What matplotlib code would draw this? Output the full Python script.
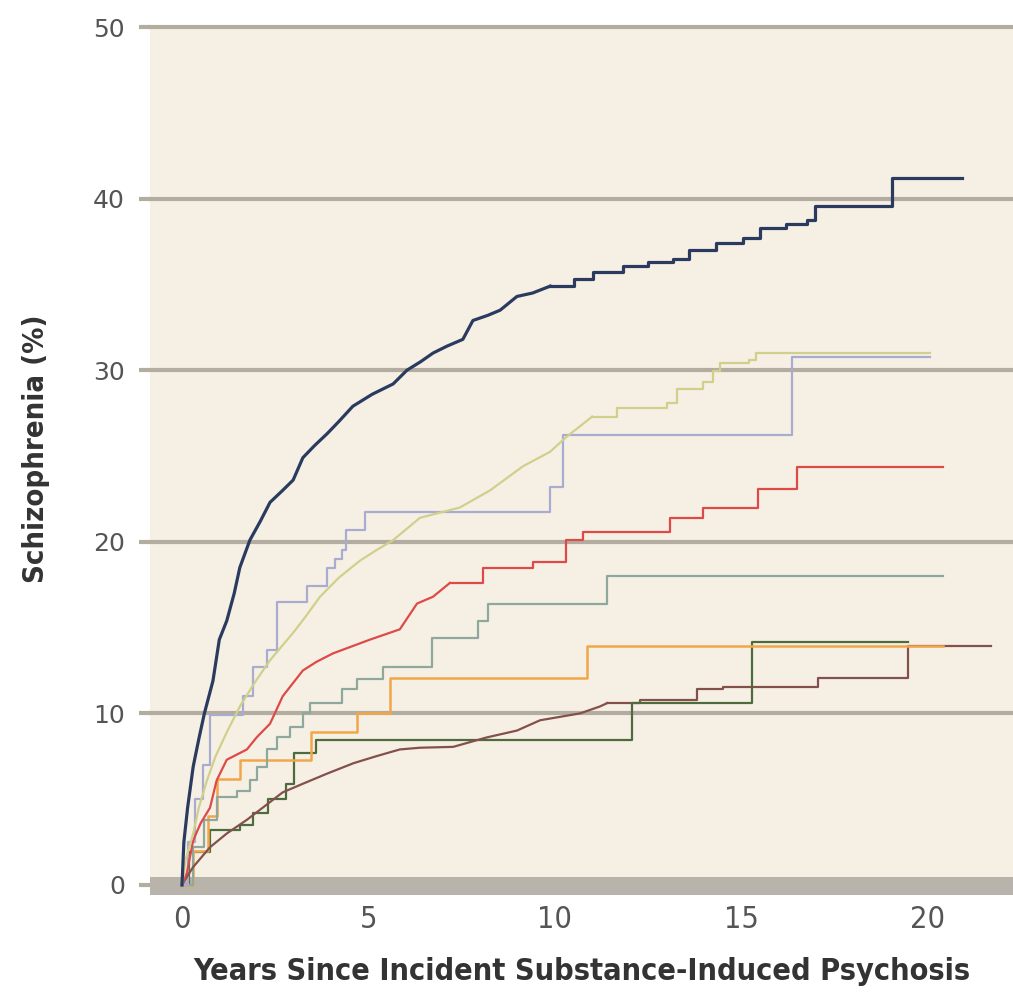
import matplotlib
matplotlib.use('Agg')
import matplotlib.pyplot as plt

# cumulative incidence curves, years vs percent
# early parts look smooth (many events), later parts are clear steps
navy_early_x = [0, 0.05, 0.15, 0.3, 0.45, 0.6, 0.83, 1.0, 1.2, 1.4, 1.55, 1.82, 2.1, 2.36, 2.7, 2.98, 3.24, 3.55,
                3.89, 4.2, 4.58, 5.1, 5.66, 6.03, 6.4, 6.73, 7.1, 7.53, 7.8, 8.2, 8.53, 8.98, 9.4, 9.87]
navy_early_y = [0, 2.5, 4.5, 6.9, 8.5, 10.0, 11.9, 14.3, 15.4, 17.0, 18.5, 20.1, 21.2, 22.3, 23.0, 23.6, 24.9, 25.6,
                26.3, 27.0, 27.9, 28.6, 29.2, 30.0, 30.5, 31.0, 31.4, 31.8, 32.9, 33.2, 33.5, 34.3, 34.5, 34.9]
navy_late_x = [9.87, 10.5, 11.03, 11.83, 12.5, 13.17, 13.6, 14.33, 15.05, 15.5, 16.2, 16.75, 16.97, 19.03, 20.9]
navy_late_y = [34.9, 35.3, 35.7, 36.1, 36.3, 36.5, 37.0, 37.4, 37.7, 38.3, 38.5, 38.75, 39.6, 41.2, 41.2]

khaki_early_x = [0, 0.1, 0.3, 0.45, 0.67, 0.9, 1.2, 1.55, 1.95, 2.36, 2.98, 3.3, 3.7, 4.2, 4.77, 5.2, 5.66, 6.38,
                 7.45, 8.26, 9.14, 9.87, 10.3, 11.0]
khaki_early_y = [0, 1.5, 3.0, 4.5, 6.1, 7.5, 8.9, 10.4, 11.8, 13.1, 14.7, 15.6, 16.8, 17.9, 18.9, 19.5, 20.1, 21.4,
                 22.0, 23.0, 24.4, 25.25, 26.1, 27.3]
khaki_late_x = [11.0, 11.66, 13.0, 13.27, 13.97, 14.24, 14.42, 15.2, 15.4, 20.05]
khaki_late_y = [27.3, 27.8, 28.1, 28.9, 29.3, 29.95, 30.4, 30.6, 31.0, 31.0]

lav_x = [0, 0.15, 0.35, 0.55, 0.75, 1.63, 1.9, 2.27, 2.54, 3.35, 3.88, 4.1, 4.28, 4.41, 4.9, 9.87, 10.22, 16.35, 20.05]
lav_y = [0, 2.5, 5.0, 7.0, 9.9, 11.0, 12.7, 13.7, 16.5, 17.4, 18.5, 19.0, 19.5, 20.7, 21.75, 23.2, 26.25, 30.8, 30.8]

red_early_x = [0, 0.13, 0.3, 0.5, 0.75, 0.93, 1.2, 1.74, 2.0, 2.36, 2.7, 3.24, 3.6, 4.05, 5.04, 5.84, 6.3, 6.73, 7.18]
red_early_y = [0, 0.7, 2.6, 3.6, 4.5, 6.1, 7.3, 7.9, 8.6, 9.4, 11.0, 12.5, 13.0, 13.5, 14.3, 14.9, 16.4, 16.8, 17.6]
red_late_x = [7.18, 8.07, 9.4, 10.3, 10.75, 13.08, 13.97, 15.45, 16.5, 20.4]
red_late_y = [17.6, 18.5, 18.8, 20.1, 20.6, 21.4, 22.0, 23.1, 24.35, 24.35]

teal_x = [0, 0.3, 0.6, 0.93, 1.47, 1.82, 2.0, 2.28, 2.54, 2.9, 3.24, 3.43, 4.3, 4.7, 5.4, 6.7, 7.93, 8.2, 11.4, 20.4]
teal_y = [0, 2.2, 3.8, 5.1, 5.5, 6.1, 6.9, 7.9, 8.6, 9.2, 10.0, 10.6, 11.4, 12.0, 12.7, 14.4, 15.4, 16.4, 18.0, 18.0]

orange_x = [0, 0.3, 0.7, 0.95, 1.55, 3.45, 4.7, 5.57, 10.85, 20.4]
orange_y = [0, 2.0, 4.0, 6.2, 7.3, 8.9, 10.0, 12.07, 13.9, 13.9]

green_x = [0, 0.2, 0.75, 1.55, 1.9, 2.3, 2.8, 3.0, 3.6, 12.06, 15.27, 19.46]
green_y = [0, 1.9, 3.2, 3.5, 4.2, 5.0, 5.9, 7.7, 8.45, 10.6, 14.18, 14.18]

brown_early_x = [0, 0.08, 0.3, 0.75, 1.2, 1.74, 2.1, 2.7, 3.24, 3.9, 4.6, 5.2, 5.84, 6.38, 7.27, 8.17, 8.98, 9.6,
                 10.67, 11.2, 11.4]
brown_early_y = [0, 0.3, 1.05, 2.2, 3.0, 3.8, 4.4, 5.4, 5.9, 6.5, 7.1, 7.5, 7.9, 8.0, 8.05, 8.6, 9.0, 9.6,
                 10.0, 10.4, 10.6]
brown_late_x = [11.4, 12.28, 13.8, 14.5, 17.05, 19.46, 21.7]
brown_late_y = [10.6, 10.8, 11.4, 11.55, 12.07, 13.95, 13.95]

y_ticks = [0, 10, 20, 30, 40, 50]
x_ticks = [0, 5, 10, 15, 20]

fig = plt.figure(figsize=(10.13, 9.94), dpi=100)
ax = fig.add_axes([150 / 1013, 99 / 994, 863 / 1013, 870 / 994])
ax.set_facecolor('#f6f0e4')
ax.set_xlim(-0.858, 22.28)
ax.set_ylim(-0.583, 50.12)

# gridlines and the thick baseline
for v in y_ticks[1:]:
    ax.axhline(v, color='#b3ada1', lw=3, zorder=1, clip_on=False)
ax.axhspan(-0.583, 0.47, color='#b8b3ab', zorder=1, lw=0)

stepped = [
    (brown_late_x, brown_late_y, '#84504c', 1.6),
    (green_x, green_y, '#4d6b3c', 1.6),
    (orange_x, orange_y, '#f2a64a', 1.8),
    (teal_x, teal_y, '#8ea89e', 1.6),
    (red_late_x, red_late_y, '#de4a47', 1.6),
    (khaki_late_x, khaki_late_y, '#cfd08c', 1.6),
    (lav_x, lav_y, '#a9abd0', 1.6),
    (navy_late_x, navy_late_y, '#2b3b60', 2.3),
]
smooth = [
    (brown_early_x, brown_early_y, '#84504c', 1.6),
    (red_early_x, red_early_y, '#de4a47', 1.6),
    (khaki_early_x, khaki_early_y, '#cfd08c', 1.6),
    (navy_early_x, navy_early_y, '#2b3b60', 2.3),
]
for xs, ys, c, w in stepped:
    ax.step(xs, ys, where='post', color=c, lw=w, zorder=3)
for xs, ys, c, w in smooth:
    ax.plot(xs, ys, color=c, lw=w, zorder=3)

for s in ax.spines.values():
    s.set_visible(False)

cond = dict(family='DejaVu Sans', fontstretch='condensed')

ax.set_yticks(y_ticks)
ax.set_yticklabels([str(v) for v in y_ticks], fontsize=18, color='#555555', family='DejaVu Sans')
ax.tick_params(axis='y', length=8, width=3, color='#b3ada1', pad=10)
ax.set_xticks(x_ticks)
ax.set_xticklabels([str(v) for v in x_ticks], fontsize=22, color='#555555', **cond)
ax.tick_params(axis='x', length=0, pad=7)

ax.set_xlabel('Years Since Incident Substance-Induced Psychosis', fontsize=22, fontweight='bold',
              color='#333333', labelpad=17, **cond)
ax.set_ylabel('Schizophrenia (%)', fontsize=21, fontweight='bold', color='#333333', **cond)
ax.yaxis.set_label_coords(-0.116, 0.513)

fig.savefig('out.png', dpi=100)
